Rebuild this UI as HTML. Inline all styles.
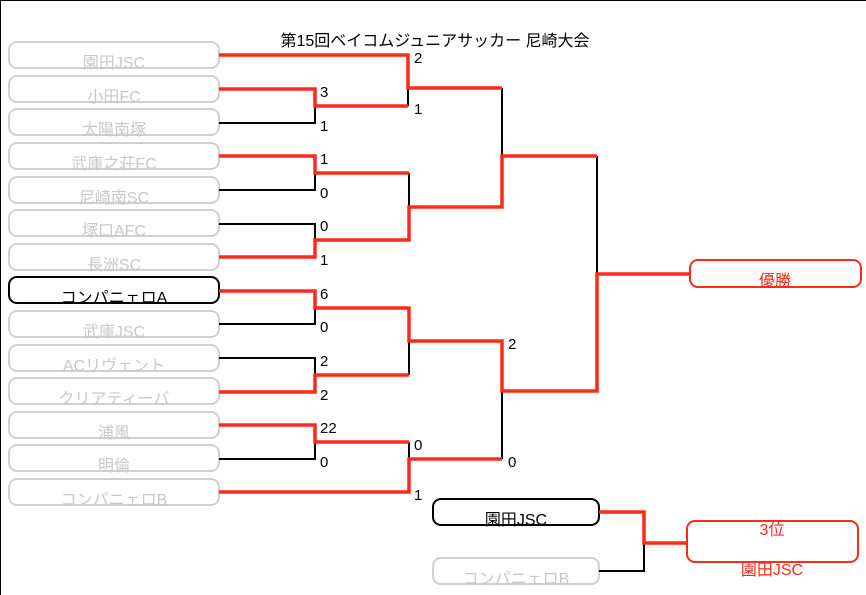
<!DOCTYPE html>
<html><head><meta charset="utf-8"><style>
html,body{margin:0;padding:0;background:#fff;}
svg{display:block;}
text{font-family:"Liberation Sans","Noto Sans CJK JP",sans-serif;}
</style></head><body>
<svg width="866" height="595" viewBox="0 0 866 595" xmlns="http://www.w3.org/2000/svg">
<line x1="0.5" y1="0" x2="0.5" y2="595" stroke="#000" stroke-width="1"/>
<line x1="0" y1="0.5" x2="866" y2="0.5" stroke="#000" stroke-width="1"/>
<text x="435" y="46" font-size="16" text-anchor="middle" fill="#000">第15回ベイコムジュニアサッカー 尼崎大会</text>
<g fill="#fff" stroke="#d0d0d0" stroke-width="2">
<rect x="9" y="42" width="210" height="26" rx="8"/>
<rect x="9" y="76" width="210" height="26" rx="8"/>
<rect x="9" y="109" width="210" height="26" rx="8"/>
<rect x="9" y="143" width="210" height="26" rx="8"/>
<rect x="9" y="177" width="210" height="26" rx="8"/>
<rect x="9" y="210" width="210" height="26" rx="8"/>
<rect x="9" y="244" width="210" height="26" rx="8"/>
<rect x="9" y="277" width="210" height="26" rx="8" stroke="#000"/>
<rect x="9" y="311" width="210" height="26" rx="8"/>
<rect x="9" y="345" width="210" height="26" rx="8"/>
<rect x="9" y="378" width="210" height="26" rx="8"/>
<rect x="9" y="412" width="210" height="26" rx="8"/>
<rect x="9" y="445" width="210" height="26" rx="8"/>
<rect x="9" y="479" width="210" height="26" rx="8"/>
<rect x="433" y="499" width="166" height="26" rx="8" stroke="#000"/>
<rect x="433" y="558" width="166" height="26" rx="8"/>
<rect x="690" y="260" width="171" height="27" rx="8" stroke="#ff2a1a"/>
<rect x="687" y="521" width="171" height="41" rx="8" stroke="#ff2a1a"/>
</g>
<g font-size="16" text-anchor="middle" fill="#c8c8c8">
<text x="114" y="68">園田JSC</text>
<text x="114" y="102">小田FC</text>
<text x="114" y="135">太陽南塚</text>
<text x="114" y="169">武庫之荘FC</text>
<text x="114" y="203">尼崎南SC</text>
<text x="114" y="236">塚口AFC</text>
<text x="114" y="270">長洲SC</text>
<text x="114" y="303" fill="#000">コンパニェロA</text>
<text x="114" y="337">武庫JSC</text>
<text x="114" y="371">ACリヴェント</text>
<text x="114" y="404">クリアティーバ</text>
<text x="114" y="438">浦風</text>
<text x="114" y="471">明倫</text>
<text x="114" y="505">コンパニェロB</text>
<text x="516" y="525" fill="#000">園田JSC</text>
<text x="516" y="584">コンパニェロB</text>
<text x="775" y="286" fill="#ff2a1a">優勝</text>
<text x="772" y="535" fill="#ff2a1a">3位</text>
<text x="772" y="575" fill="#ff2a1a">園田JSC</text>
</g>
<g fill="none" stroke="#000" stroke-width="2">
<polyline points="219,123 315,123 315,106"/>
<polyline points="219,190 315,190 315,173"/>
<polyline points="219,224 315,224 315,240"/>
<polyline points="219,324 315,324 315,308"/>
<polyline points="219,358 315,358 315,375"/>
<polyline points="219,459 315,459 315,442"/>
<line x1="408" y1="88" x2="408" y2="106"/>
<line x1="409" y1="173" x2="409" y2="207"/>
<line x1="409" y1="341" x2="409" y2="375"/>
<line x1="409" y1="442" x2="409" y2="459"/>
<line x1="502" y1="88" x2="502" y2="156"/>
<line x1="502" y1="391" x2="502" y2="459"/>
<line x1="597" y1="156" x2="597" y2="274"/>
<polyline points="599,571 644,571 644,543"/>
</g>
<g fill="none" stroke="#ff2a1a" stroke-width="3.5">
<polyline points="219,55 408,55 408,88 502,88"/>
<polyline points="219,89 315,89 315,106 408,106"/>
<polyline points="219,156 315,156 315,173 409,173"/>
<polyline points="219,257 315,257 315,240 409,240 409,207 502,207 502,156 597,156"/>
<polyline points="219,291 315,291 315,308 409,308 409,341 502,341 502,391 597,391 597,274 690,274"/>
<polyline points="219,392 315,392 315,375 409,375"/>
<polyline points="219,425 315,425 315,442 409,442"/>
<polyline points="219,492 409,492 409,459 502,459"/>
<polyline points="599,512 644,512 644,543 687,543"/>
</g>
<g font-size="15" fill="#000">
<text x="320" y="97">3</text><text x="320" y="131">1</text>
<text x="414" y="63">2</text><text x="414" y="114">1</text>
<text x="320" y="164">1</text><text x="320" y="198">0</text>
<text x="320" y="231">0</text><text x="320" y="265">1</text>
<text x="320" y="299">6</text><text x="320" y="332">0</text>
<text x="320" y="366">2</text><text x="320" y="400">2</text>
<text x="320" y="433">22</text><text x="320" y="467">0</text>
<text x="414" y="450">0</text><text x="414" y="500">1</text>
<text x="508" y="349">2</text><text x="508" y="467">0</text>
</g>
</svg>
</body></html>
